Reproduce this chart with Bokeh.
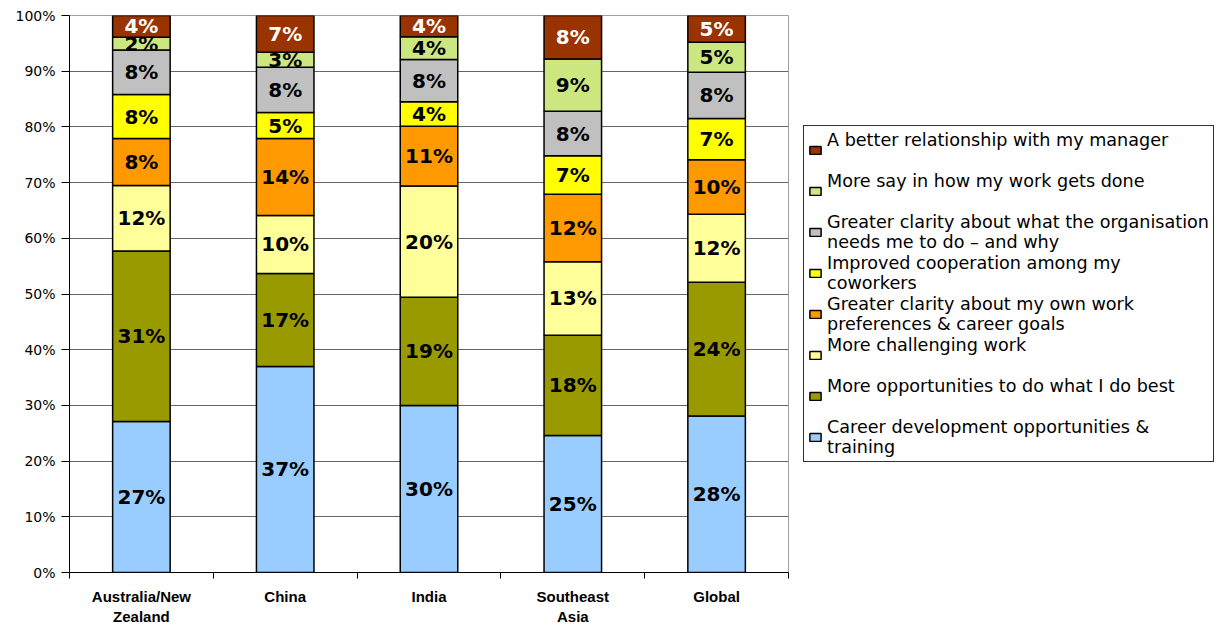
from bokeh.plotting import figure
from bokeh.models import (Range1d, LinearAxis, FixedTicker, ColumnDataSource, Legend,
                          LegendItem, PrintfTickFormatter, Grid)
from bokeh.core.properties import value
from bokeh.embed import file_html
from bokeh.resources import INLINE

categories = ["Australia/New Zealand", "China", "India", "Southeast Asia", "Global"]
category_labels = ["Australia/New\nZealand", "China", "India", "Southeast\nAsia", "Global"]

# series, bottom to top of each stacked bar (percent)
career = [27.1, 37.0, 30.0, 24.6, 28.1]
opportunities = [30.6, 16.7, 19.4, 18.0, 24.0]
challenging = [11.8, 10.4, 20.0, 13.2, 12.2]
own_clarity = [8.4, 13.8, 10.7, 12.1, 9.8]
cooperation = [7.9, 4.7, 4.4, 6.9, 7.4]
org_clarity = [8.0, 8.1, 7.6, 8.0, 8.3]
more_say = [2.3, 2.7, 4.1, 9.4, 5.4]
manager = [3.9, 6.6, 3.8, 7.8, 4.8]

series = [career, opportunities, challenging, own_clarity, cooperation, org_clarity, more_say, manager]
keys = ["career", "opportunities", "challenging", "own_clarity", "cooperation", "org_clarity", "more_say", "manager"]
series_labels = [
    "Career development opportunities &\ntraining",
    "More opportunities to do what I do best",
    "More challenging work",
    "Greater clarity about my own work\npreferences & career goals",
    "Improved cooperation among my\ncoworkers",
    "Greater clarity about what the organisation\nneeds me to do \u2013 and why",
    "More say in how my work gets done",
    "A better relationship with my manager",
]
colors = ["#99CCFF", "#999900", "#FFFF99", "#FF9900", "#FFFF00", "#C0C0C0", "#CCE680", "#993300"]
text_colors = ["black"] * 7 + ["white"]
y_ticks = list(range(0, 101, 10))

x = [i + 0.5 for i in range(len(categories))]
data = dict(x=x)
for k, vals in zip(keys, series):
    data[k] = vals
source = ColumnDataSource(data)

p = figure(frame_width=719, frame_height=557, output_backend="svg", toolbar_location=None,
           x_range=Range1d(0, len(categories)), y_range=Range1d(0, 100),
           x_axis_type=None, y_axis_type=None,
           min_border_left=69, min_border_right=430, min_border_top=15, min_border_bottom=53,
           outline_line_color="#a0a0a0", background_fill_color="white",
           border_fill_color="white")

renderers = p.vbar_stack(keys, x="x", width=0.4, fill_color=colors, line_color="black",
                         line_width=1.5, source=source)

# y axis
yaxis = LinearAxis(ticker=FixedTicker(ticks=y_ticks, minor_ticks=[]),
                   formatter=PrintfTickFormatter(format="%d%%"),
                   major_tick_out=8, major_tick_in=0, minor_tick_line_color=None,
                   major_label_standoff=6, axis_line_color="black",
                   major_label_text_font="DejaVu Sans", major_label_text_font_size="14px",
                   major_label_text_color="black")
p.add_layout(yaxis, "left")
p.add_layout(Grid(dimension=1, ticker=yaxis.ticker, grid_line_color="#666666", grid_line_width=1,
                  level="underlay"))

# x axis: labels at centers, tick marks at category boundaries
xaxis = LinearAxis(ticker=FixedTicker(ticks=x, minor_ticks=list(range(0, len(categories) + 1))),
                   major_label_overrides={xi: lab for xi, lab in zip(x, category_labels)},
                   major_tick_line_color=None, major_tick_out=0, major_tick_in=0,
                   minor_tick_out=6, minor_tick_in=0, minor_tick_line_color="black",
                   major_label_standoff=9, axis_line_color="black",
                   major_label_text_font="Liberation Sans", major_label_text_font_style="bold",
                   major_label_text_font_size="15px", major_label_text_color="black",
                   major_label_text_line_height=1.2)
p.add_layout(xaxis, "below")

# segment labels
lx, ly, lt, lc = [], [], [], []
for s_idx, (vals, tc) in enumerate(zip(series, text_colors)):
    for i, v in enumerate(vals):
        bottom = sum(series[j][i] for j in range(s_idx))
        lx.append(x[i])
        ly.append(bottom + v / 2)
        lt.append(f"{round(v):d}%")
        lc.append(tc)
lsrc = ColumnDataSource(dict(x=lx, y=ly, text=lt, color=lc))
p.text(x="x", y="y", text="text", text_color="color", source=lsrc,
       text_font=value("DejaVu Sans"), text_font_style="bold", text_font_size="20px",
       text_align="center", text_baseline="middle")

# every legend entry occupies a two-line slot, text aligned to the top as in the reference
legend_texts = [lab if "\n" in lab else lab + "\n " for lab in series_labels]
items = [LegendItem(label=lab, renderers=[r]) for lab, r in zip(legend_texts, renderers)][::-1]
legend = Legend(items=items, location=(15, 110), orientation="vertical",
                border_line_color="#303030", border_line_width=1, border_line_alpha=1.0,
                background_fill_color="white", background_fill_alpha=1.0,
                label_text_font="DejaVu Sans", label_text_font_size="17.6px",
                label_text_color="black",
                glyph_width=14, glyph_height=10, label_standoff=5,
                padding=4, spacing=1, label_height=20, margin=0)
p.add_layout(legend, "right")

open("out.html", "w").write(file_html(p, INLINE))
